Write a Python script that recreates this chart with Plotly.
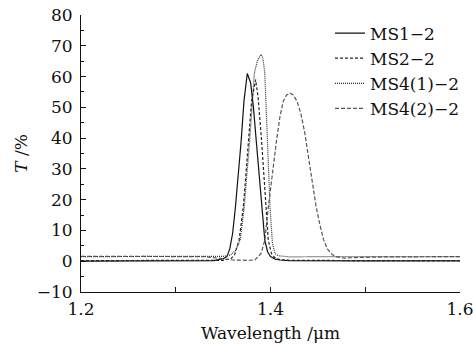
import plotly.graph_objects as go

# ---- data ----
names = ["MS1\u22122", "MS2\u22122", "MS4(1)\u22122", "MS4(2)\u22122"]

x_ms1 = [1.20, 1.30, 1.340, 1.350, 1.354, 1.357, 1.360, 1.363, 1.366, 1.369, 1.372, 1.3755,
         1.379, 1.382, 1.385, 1.388, 1.391, 1.394, 1.397, 1.400, 1.405, 1.41, 1.42, 1.45, 1.50, 1.60]
y_ms1 = [0.0, 0.0, 0.2, 0.8, 1.5, 4, 9, 17.6, 28, 39, 52, 61,
         58, 50, 39, 28, 17.6, 6.8, 3, 1.5, 0.7, 0.4, 0.2, 0.1, 0.1, 0.1]

x_ms2 = [1.20, 1.30, 1.350, 1.358, 1.362, 1.3668, 1.3713, 1.374, 1.3766, 1.380, 1.3843,
         1.387, 1.3906, 1.393, 1.3948, 1.3977, 1.401, 1.405, 1.41, 1.42, 1.50, 1.60]
y_ms2 = [0.2, 0.2, 0.3, 0.8, 2, 6.8, 17.6, 28, 39, 52, 59,
         53, 39, 28, 17.6, 6.8, 2.5, 1.0, 0.5, 0.3, 0.2, 0.2]

x_ms41 = [1.20, 1.30, 1.350, 1.358, 1.363, 1.368, 1.3723, 1.375, 1.378, 1.3829, 1.386, 1.390,
          1.392, 1.394, 1.397, 1.3995, 1.402, 1.4047, 1.408, 1.415, 1.42, 1.45, 1.50, 1.60]
y_ms41 = [1.5, 1.5, 1.6, 2.0, 3.5, 6.8, 17.6, 28, 39, 61, 65, 67.2,
          66, 61, 39, 17.6, 6, 2.5, 1.8, 1.5, 1.4, 1.5, 1.5, 1.5]

x_ms42 = [1.20, 1.30, 1.330, 1.345, 1.360, 1.375, 1.3836, 1.390, 1.394, 1.3977, 1.402, 1.4064,
          1.410, 1.4135, 1.417, 1.4206, 1.424, 1.428, 1.432, 1.436, 1.440, 1.444, 1.448, 1.452,
          1.456, 1.460, 1.465, 1.470, 1.478, 1.49, 1.52, 1.60]
y_ms42 = [1.6, 1.6, 1.5, 1.0, 0.4, 0.3, 0.4, 2.5, 6.8, 17.6, 29, 39.3,
          47, 52, 54, 54.6, 54, 52, 48, 42, 34, 26, 18, 12,
          7, 4, 2.2, 1.4, 1.0, 1.2, 1.4, 1.5]

x_range = [1.2, 1.6]
y_range = [-10, 80]
x_tick_vals = [1.2, 1.4, 1.6]
x_tick_text = ["1.2", "1.4", "1.6"]

FONT = "DejaVu Serif"
FS = 17

fig = go.Figure()
series = [
    (x_ms1, y_ms1, names[0], dict(color="#111111", width=1.2, dash="solid")),
    (x_ms2, y_ms2, names[1], dict(color="#222222", width=1.2, dash="3px,2px")),
    (x_ms41, y_ms41, names[2], dict(color="#333333", width=1.2, dash="1px,1px")),
    (x_ms42, y_ms42, names[3], dict(color="#555555", width=1.2, dash="4px,2px")),
]
for xs, ys, nm, ln in series:
    fig.add_trace(go.Scatter(x=xs, y=ys, name=nm, mode="lines", line=ln))

fig.update_layout(
    width=473, height=349, autosize=False,
    margin=dict(l=81, r=13, t=15, b=57, autoexpand=False),
    paper_bgcolor="white", plot_bgcolor="white",
    font=dict(family=FONT, size=FS, color="#111111"),
    showlegend=True,
    legend=dict(x=0.657, y=0.998, xanchor="left", yanchor="top",
                bgcolor="rgba(0,0,0,0)", font=dict(family=FONT, size=FS),
                itemwidth=30, tracegroupgap=0),
    xaxis=dict(range=x_range, showgrid=False, zeroline=False, automargin=False,
               showline=True, linecolor="#111111", linewidth=1,
               ticks="inside", ticklen=5, tickcolor="#111111",
               tickvals=x_tick_vals, ticktext=x_tick_text, ticklabeloverflow="allow",
               minor=dict(dtick=0.1, ticks="inside", ticklen=5, tickcolor="#111111", showgrid=False),
               title=dict(text="Wavelength /\u03bcm", standoff=8, font=dict(size=FS)),
               tickfont=dict(size=FS), ticklabelstandoff=2),
    yaxis=dict(range=y_range, showgrid=False, zeroline=False, automargin=False,
               showline=True, linecolor="#111111", linewidth=1,
               ticks="inside", ticklen=5, tickcolor="#111111",
               dtick=10, tick0=0, ticklabeloverflow="allow",
               minor=dict(dtick=5, ticks="inside", ticklen=3, tickcolor="#111111", showgrid=False),
               title=dict(text="<i>T</i> /%", standoff=4, font=dict(size=FS)),
               tickfont=dict(size=FS), ticklabelstandoff=4),
)

# remove the browser's default body margin/scrollbars so the figure sits at the page origin
fig.write_html(
    "out.html",
    config={"displayModeBar": False, "responsive": False},
    post_script="document.body.style.margin='0';document.body.style.overflow='hidden';",
)
